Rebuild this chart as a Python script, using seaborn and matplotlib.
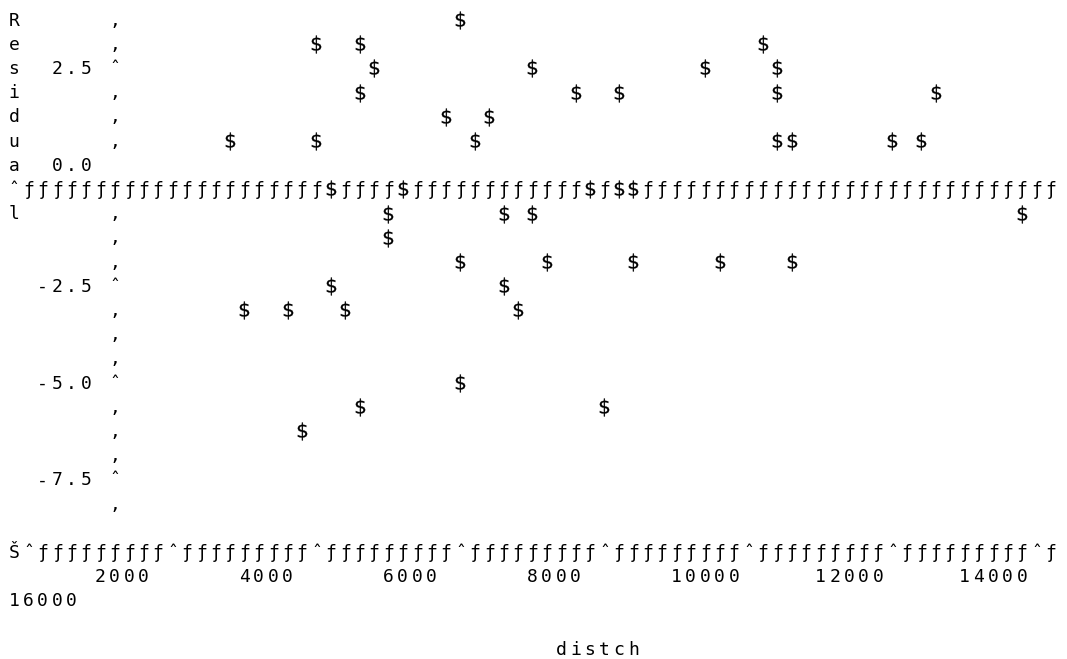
import numpy as np
import pandas as pd
import matplotlib
matplotlib.use("Agg")
import matplotlib.pyplot as plt
import seaborn as sns

# ---------------- data ----------------
distch = [6600,
          4600, 5200, 10800,
          5400, 7600, 10000, 11000,
          5200, 8200, 8800, 11000, 13200,
          6400, 7000,
          3400, 4600, 6800, 11000, 11200, 12600, 13000,
          4800, 5800, 8400, 8800, 9000,
          5600, 7200, 7600, 14400,
          5600,
          6600, 7800, 9000, 10200, 11200,
          4800, 7200,
          3600, 4200, 5000, 7400,
          6600,
          5200, 8600,
          4400]
residual = [3.75,
            3.125, 3.125, 3.125,
            2.5, 2.5, 2.5, 2.5,
            1.875, 1.875, 1.875, 1.875, 1.875,
            1.25, 1.25,
            0.625, 0.625, 0.625, 0.625, 0.625, 0.625, 0.625,
            0.0, 0.0, 0.0, 0.0, 0.0,
            -0.625, -0.625, -0.625, -0.625,
            -1.25,
            -1.875, -1.875, -1.875, -1.875, -1.875,
            -2.5, -2.5,
            -3.125, -3.125, -3.125, -3.125,
            -5.0,
            -5.625, -5.625,
            -6.25]

y_ticks = [2.5, 0.0, -2.5, -5.0, -7.5]
y_tick_labels = ["2.5", "0.0", "-2.5", "-5.0", "-7.5"]
x_ticks = [2000, 4000, 6000, 8000, 10000, 12000, 14000, 16000]
x_tick_labels = ["2000", "4000", "6000", "8000", "10000", "12000", "14000", "16000"]
y_title = "Residual"
x_title = "distch"

df = pd.DataFrame({"distch": distch, "residual": residual})

# ---------------- text-grid layout (line printer look) ----------------
W, H = 1067, 659
X0, PITCH = 14.0, 14.4        # pixel centre of column 0, column pitch
Y0, LINE = 20.0, 24.2         # pixel centre of row 0, row pitch
BASE = 5.6                    # baseline offset below row centre
STEP = 0.625                  # residual units per printed row
AXCOL = 7                     # column of the vertical axis
NCOLS = 73
FONT = dict(family="DejaVu Sans Mono", fontsize=13, color="black")


def col_of(d):
    return 8 + (d - 2000) / 200.0


def d_of_px(px):
    return 2000 + ((px - X0) / PITCH - 8) * 200.0


def label_row(v):
    if v > 0:
        return 6 - v / STEP
    if v == 0:
        return 6
    return 7 - v / STEP


# residual -> printed row (row 7 is the wrapped reference line at 0)
V_ANCH = np.array([-40.0, 0.0, STEP, 40.0])
R_ANCH = np.array([7 + 40 / STEP, 7.0, 5.0, 6 - 40 / STEP])


def fwd(v):
    return -np.interp(np.asarray(v, dtype=float), V_ANCH, R_ANCH)


def inv(p):
    return np.interp(np.asarray(p, dtype=float), -R_ANCH, V_ANCH)


sns.set_style("white")
fig = plt.figure(figsize=(W / 100, H / 100), dpi=100)
fig.patch.set_facecolor("white")

ax = fig.add_axes([0, 0, 1, 1])
sns.scatterplot(data=df, x="distch", y="residual", marker=r"$\$$", s=165,
                color="black", edgecolor="black", linewidth=0.2,
                legend=False, ax=ax)
ax.set_xlim(d_of_px(0), d_of_px(W))
ax.set_yscale("function", functions=(fwd, inv))
ax.set_ylim(float(inv(-(H - Y0) / LINE)), float(inv(Y0 / LINE)))
ax.set_axis_off()

tax = fig.add_axes([0, 0, 1, 1], facecolor="none")
tax.set_xlim(0, W)
tax.set_ylim(H, 0)
tax.set_axis_off()


def put(ch, col, row):
    tax.text(X0 + PITCH * col, Y0 + LINE * row + BASE, ch,
             ha="center", va="baseline", **FONT)


def put_str(s, col, row):
    for i, ch in enumerate(s):
        if ch != " ":
            put(ch, col + i, row)


# vertical title letters (row 7 holds the wrapped reference line)
title_rows = [0, 1, 2, 3, 4, 5, 6, 8]
for ch, r in zip(y_title, title_rows):
    put(ch, 0, r)

# y tick labels and axis column
tick_rows = []
for v, lab in zip(y_ticks, y_tick_labels):
    r = int(round(label_row(v)))
    put_str(lab, AXCOL - 1 - len(lab), r)
    if v != 0:
        tick_rows.append(r)
for r in range(0, 21):
    if r in (6, 7):
        continue
    put("\u02c6" if r in tick_rows else "\u201a", AXCOL, r)

# reference line at residual 0 (wrapped onto its own printed row)
occupied = {int(round(col_of(d))) for d, v in zip(distch, residual) if v == 0}
put("\u02c6", 0, 7)
for c in range(1, NCOLS):
    if c not in occupied:
        put("\u0192", c, 7)

# horizontal axis row
AXROW = 22
for c in range(NCOLS):
    if c == 0:
        ch = "\u0160"
    elif (c - 1) % 10 == 0:
        ch = "\u02c6"
    else:
        ch = "\u0192"
    put(ch, c, AXROW)

# x tick labels (the one that overflows wraps to the next line)
for v, lab in zip(x_ticks, x_tick_labels):
    start = int(round(col_of(v))) - len(lab) // 2
    if start + len(lab) > NCOLS:
        put_str(lab, 0, AXROW + 2)
    else:
        put_str(lab, start, AXROW + 1)

put_str(x_title, 38, AXROW + 4)

fig.savefig("out.png", dpi=100, facecolor="white")
